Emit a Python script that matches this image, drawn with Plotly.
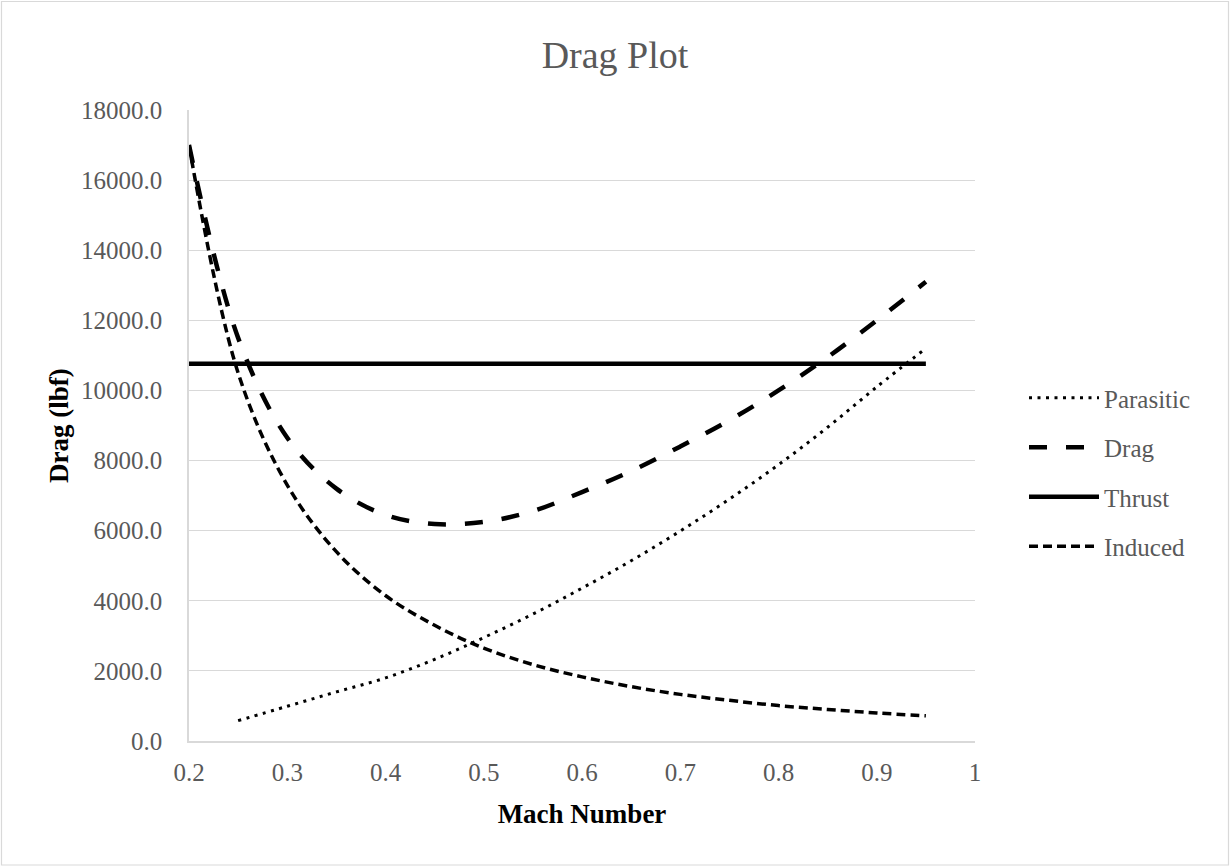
import plotly.graph_objects as go

# Mach numbers at which each curve was evaluated
mach = [0.20, 0.25, 0.30, 0.35, 0.40, 0.45, 0.50, 0.55,
        0.60, 0.65, 0.70, 0.75, 0.80, 0.85, 0.90, 0.95]
mach_parasitic = [0.25, 0.30, 0.35, 0.40, 0.45, 0.50, 0.55,
                  0.60, 0.65, 0.70, 0.75, 0.80, 0.85, 0.90, 0.95]

# Drag components and available thrust (lbf)
parasitic = [580, 990, 1400, 1800, 2330, 2950, 3620,
             4360, 5140, 5990, 6900, 7880, 8950, 10100, 11200]
drag = [17000, 11500, 8650, 7200, 6450, 6190, 6250, 6560,
        7100, 7700, 8400, 9150, 10000, 10950, 12000, 13100]
thrust = [10760] * len(mach)
induced = [17000, 10500, 7300, 5400, 4150, 3300, 2650, 2180,
           1830, 1550, 1330, 1160, 1010, 900, 800, 720]

SERIF = "Liberation Serif, Times New Roman, serif"
GREY = "#595959"
GRID = "#d9d9d9"

fig = go.Figure()
fig.add_trace(go.Scatter(
    x=mach_parasitic, y=parasitic, name="Parasitic", mode="lines",
    legendgroup="p", line=dict(color="black", width=3, dash="3px,5.5px", shape="spline")))
fig.add_trace(go.Scatter(
    x=mach, y=drag, name="Drag", mode="lines",
    legendgroup="d", line=dict(color="black", width=4.5, dash="18px,19px", shape="spline")))
fig.add_trace(go.Scatter(
    x=mach, y=thrust, name="Thrust", mode="lines",
    legendgroup="t", line=dict(color="black", width=4.5)))
fig.add_trace(go.Scatter(
    x=mach, y=induced, name="Induced", mode="lines",
    legendgroup="i", line=dict(color="black", width=3.5, dash="9px,5px", shape="spline")))

# Plot area spans x 189..975 px and y 110..741 px of the 1230x867 canvas
W, H = 1230, 867
L, R, T, B = 189, 975, 110, 741
pw, ph = R - L, B - T

fig.update_layout(
    width=W, height=H,
    margin=dict(l=L, r=W - R, t=T, b=H - B),
    paper_bgcolor="white", plot_bgcolor="white",
    font=dict(family=SERIF, color=GREY, size=25),
    title=dict(text="Drag Plot", x=0.5, xanchor="center",
               y=1 - 55 / H, yanchor="middle",
               font=dict(family=SERIF, size=38, color=GREY)),
    showlegend=True,
    legend=dict(x=(1024 - L) / pw, xanchor="left",
                y=(B - 472) / ph, yanchor="middle",
                itemwidth=70, tracegroupgap=14, traceorder="grouped",
                bgcolor="rgba(0,0,0,0)",
                font=dict(family=SERIF, size=25, color=GREY)),
    shapes=[dict(type="rect", xref="paper", yref="paper",
                 x0=(1.5 - L) / pw, x1=(1228.5 - L) / pw,
                 y0=(B - 865) / ph, y1=(B - 1.5) / ph,
                 line=dict(color=GRID, width=1.2), layer="below")],
)

fig.update_xaxes(
    range=[0.2, 1], dtick=0.1, tick0=0.2, showgrid=False,
    showline=True, linecolor=GRID, linewidth=1.5, zeroline=False,
    ticks="", ticklabelstandoff=8,
    tickfont=dict(family=SERIF, size=25, color=GREY),
    title=dict(text="<b>Mach Number</b>", standoff=19,
               font=dict(family=SERIF, size=27, color="black")),
)
fig.update_yaxes(
    range=[0, 18000], dtick=2000, tickformat=".1f",
    showgrid=True, gridcolor=GRID, gridwidth=1.3,
    showline=True, linecolor=GRID, linewidth=1.5, zeroline=False,
    ticks="", ticklabelstandoff=20,
    tickfont=dict(family=SERIF, size=25, color=GREY),
    title=dict(text="<b>Drag (lbf)</b>", standoff=5,
               font=dict(family=SERIF, size=27, color="black")),
)

fig.write_html("out.html")
